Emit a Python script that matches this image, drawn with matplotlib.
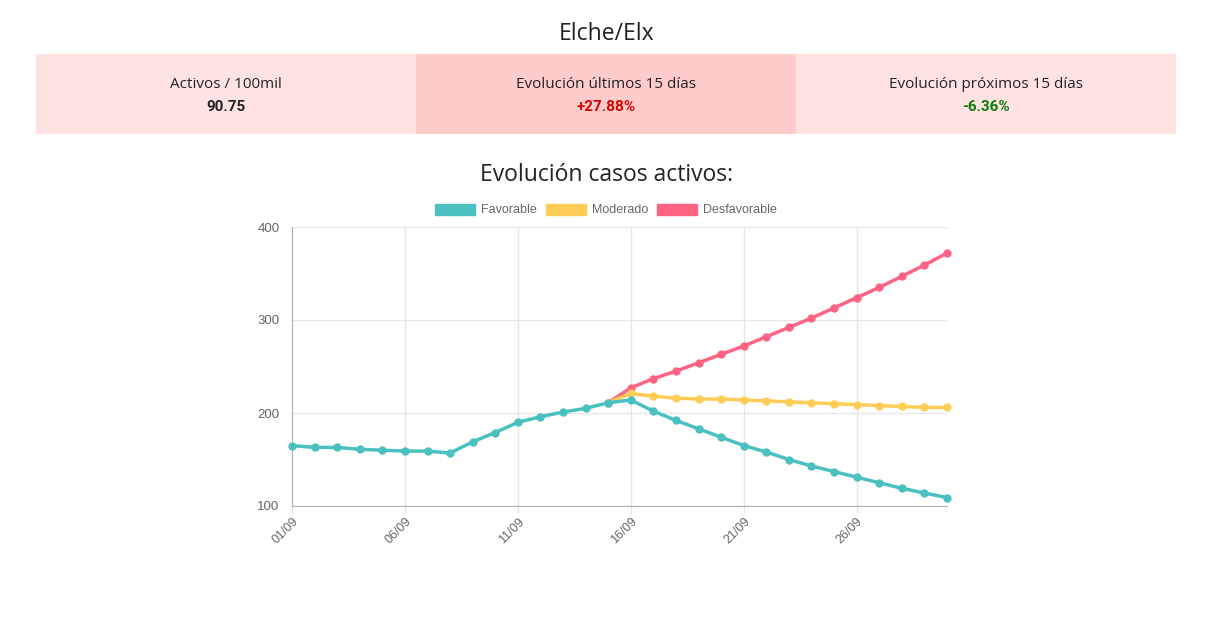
import matplotlib
matplotlib.use("Agg")
import matplotlib.pyplot as plt
from matplotlib.patches import Rectangle, Patch

# data
dates = [f"{d:02d}/09" for d in range(1, 31)]
history = [165, 163, 163, 161, 160, 159, 159, 157, 169, 179,
           190, 196, 201, 205, 211]
proj_favorable = [214, 202, 192, 183, 174, 165, 158, 150, 143, 137,
                  131, 125, 119, 114, 109]
proj_moderado = [221, 218, 216, 215, 215, 214, 213, 212, 211, 210,
                 209, 208, 207, 206, 206]
proj_desfavorable = [227, 237, 245, 254, 263, 272, 282, 292, 302, 313,
                     324, 335, 347, 359, 372]

city = "Elche/Elx"
cards = [("Activos / 100mil", "90.75", "#222222"),
         ("Evolución últimos 15 días", "+27.88%", "#d90000"),
         ("Evolución próximos 15 días", "-6.36%", "#0a7d0a")]
card_bg = ["#ffe3e3", "#ffcccc", "#ffe3e3"]

TEAL = "#4bc0c0"
YELLOW = "#ffcd56"
RED = "#ff6384"
GRID = "#e6e6e6"
TXT = "#666666"

W, H = 1215, 629
fig = plt.figure(figsize=(W / 100, H / 100), dpi=100)
head_font = ["Open Sans", "DejaVu Sans"]
bold_font = ["Roboto", "DejaVu Sans"]
chart_font = ["Liberation Sans", "DejaVu Sans"]

# header and cards
fig.text(607 / W, 1 - 34 / H, city, ha="center", va="center",
         fontsize=16.5, family=head_font, color="#222222")
x0, cw = 36, 380
for i, (label, value, col) in enumerate(cards):
    fig.patches.append(Rectangle(((x0 + i * cw) / W, 1 - 134 / H), cw / W, 80 / H,
                                 transform=fig.transFigure, facecolor=card_bg[i],
                                 edgecolor="none", zorder=0))
    cx = (x0 + i * cw + cw / 2) / W
    fig.text(cx, 1 - 84 / H, label, ha="center", va="center",
             fontsize=11, family=head_font, color="#222222")
    fig.text(cx, 1 - 107 / H, value, ha="center", va="center",
             fontsize=11, family=bold_font, color=col, fontweight="bold")

fig.text(607 / W, 1 - 175 / H, "Evolución casos activos:", ha="center", va="center",
         fontsize=16.5, family=head_font, color="#222222")

# chart
ax = fig.add_axes([292 / W, 1 - 506 / H, (947 - 292) / W, (506 - 227) / H])
n_hist = len(history)
x_hist = list(range(n_hist))
x_proj = list(range(n_hist - 1, len(dates)))

ax.plot(x_proj, [history[-1]] + proj_desfavorable, color=RED, lw=2.5,
        marker="o", ms=5, zorder=3, clip_on=False)
ax.plot(x_proj, [history[-1]] + proj_moderado, color=YELLOW, lw=2.5,
        marker="o", ms=5, zorder=4, clip_on=False)
ax.plot(x_hist + list(range(n_hist, len(dates))), history + proj_favorable,
        color=TEAL, lw=2.5, marker="o", ms=5, zorder=5, clip_on=False)

ax.set_xlim(0, len(dates) - 1)
ax.set_ylim(100, 400)
ax.set_yticks([100, 200, 300, 400])
ticks = list(range(0, len(dates), 5))
ax.set_xticks(ticks)
ax.set_xticklabels([dates[t] for t in ticks], rotation=45, ha="right",
                   rotation_mode="anchor")
ax.grid(True, color=GRID, lw=1)
ax.set_axisbelow(True)
for s in ["top", "right"]:
    ax.spines[s].set_visible(False)
for s in ["left", "bottom"]:
    ax.spines[s].set_color("#b0b0b0")
ax.tick_params(axis="x", colors=GRID, length=5, width=1, labelcolor=TXT,
               labelsize=9, pad=2)
ax.tick_params(axis="y", colors=GRID, length=0, labelcolor=TXT,
               labelsize=9.5, pad=9)
for lab in ax.get_xticklabels() + ax.get_yticklabels():
    lab.set_family(chart_font)

handles = [Patch(facecolor=c, edgecolor=c) for c in (TEAL, YELLOW, RED)]
fig.legend(handles, ["Favorable", "Moderado", "Desfavorable"], loc="center",
           bbox_to_anchor=(606 / W, 1 - 210 / H), ncol=3, frameon=False,
           handlelength=3.2, handleheight=1.0, handletextpad=0.5,
           columnspacing=0.7, prop={"family": chart_font, "size": 9},
           labelcolor=TXT)

fig.savefig("out.png", dpi=100, facecolor="white")
